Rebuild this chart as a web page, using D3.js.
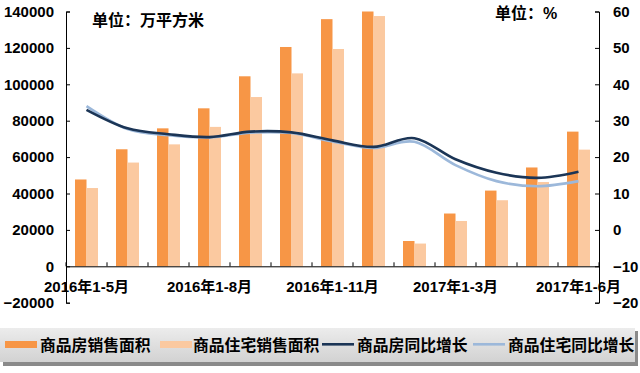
<!DOCTYPE html>
<html>
<head>
<meta charset="utf-8">
<script src="https://cdn.jsdelivr.net/npm/d3@7"></script>
<style>
  body { margin: 0; background: #fff; }
  text { font-family: "Liberation Sans", "Noto Sans CJK SC", sans-serif; font-weight: bold; fill: #000; }
</style>
</head>
<body>
<div id="chart"></div>
<script>
// categories and series
var categories = ['2016年1-5月','2016年1-6月','2016年1-7月','2016年1-8月','2016年1-9月','2016年1-10月',
    '2016年1-11月','2016年1-12月','2017年1-2月','2017年1-3月','2017年1-4月','2017年1-5月','2017年1-6月'];
var salesArea   = [47700, 64300, 75800, 86800, 104400, 120500, 135800, 157000, 13900, 29000, 41600, 54300, 74000];
var housingArea = [43000, 57000, 67000, 76600, 93000, 106000, 119400, 137500, 12500, 24900, 36300, 46300, 64100];
var salesGrowth   = [33.0, 27.9, 26.3, 25.5, 27.0, 26.8, 24.6, 22.8, 25.2, 19.4, 15.7, 14.3, 16.0];
var housingGrowth = [34.0, 27.7, 26.0, 25.4, 26.7, 26.6, 24.3, 22.5, 24.2, 17.8, 13.4, 12.0, 13.4];
var leftTicks  = [-20000, 0, 20000, 40000, 60000, 80000, 100000, 120000, 140000];
var rightTicks = [-20, -10, 0, 10, 20, 30, 40, 50, 60];
var labelIdx = [0, 3, 6, 9, 12];
var legendNames = ['商品房销售面积', '商品住宅销售面积', '商品房同比增长', '商品住宅同比增长'];

var W = 640, H = 373;
var margin = {top: 11.5, right: 41, bottom: 70.3, left: 66},
    width = W - margin.left - margin.right,
    height = H - margin.top - margin.bottom;

var colDark = '#f79646', colLight = '#fbc9a0', colNavy = '#1b3556', colSky = '#9cb8da';

var root = d3.select('#chart').append('svg')
    .attr('width', W).attr('height', H);

var defs = root.append('defs');
defs.append('clipPath').attr('id', 'plotclip')
    .append('rect').attr('x', 0).attr('y', 0).attr('width', width).attr('height', height);
var grad = defs.append('linearGradient').attr('id', 'leg').attr('x1', 0).attr('y1', 0).attr('x2', 0).attr('y2', 1);
grad.append('stop').attr('offset', '0%').attr('stop-color', '#ececec');
grad.append('stop').attr('offset', '100%').attr('stop-color', '#d2d2d2');

var svg = root.append('g')
    .attr('transform', 'translate(' + margin.left + ',' + margin.top + ')');

var xScale = d3.scaleBand()
    .domain(categories)
    .range([0, width]);

var inner = d3.scaleBand()
    .domain(['a', 'b'])
    .range([0, 23])
    .paddingInner(0);

var yLeft = d3.scaleLinear()
    .domain([-20000, 140000])
    .range([height, 0]);

var yRight = d3.scaleLinear()
    .domain([-20, 60])
    .range([height, 0]);

// bars
var bars = svg.append('g').attr('clip-path', 'url(#plotclip)');
var off = (xScale.bandwidth() - 23) / 2;

bars.selectAll('.dark')
    .data(salesArea)
    .enter().append('rect')
    .attr('class', 'dark')
    .attr('x', (d, i) => xScale(categories[i]) + off + inner('a'))
    .attr('width', inner.bandwidth())
    .attr('y', d => yLeft(d))
    .attr('height', d => yLeft(0) - yLeft(d))
    .attr('fill', colDark);

bars.selectAll('.light')
    .data(housingArea)
    .enter().append('rect')
    .attr('class', 'light')
    .attr('x', (d, i) => xScale(categories[i]) + off + inner('b'))
    .attr('width', inner.bandwidth())
    .attr('y', d => yLeft(d))
    .attr('height', d => yLeft(0) - yLeft(d))
    .attr('fill', colLight);

// smoothed lines
var cx = (d, i) => xScale(categories[i]) + xScale.bandwidth() / 2;
var line = d3.line()
    .x(cx)
    .y(d => yRight(d))
    .curve(d3.curveCardinal.tension(0));

svg.append('path')
    .datum(housingGrowth)
    .attr('d', line)
    .attr('fill', 'none')
    .attr('stroke', colSky)
    .attr('stroke-width', 2.6);

svg.append('path')
    .datum(salesGrowth)
    .attr('d', line)
    .attr('fill', 'none')
    .attr('stroke', colNavy)
    .attr('stroke-width', 2.6);

// axes
var leftAxis = d3.axisLeft(yLeft)
    .tickValues(leftTicks)
    .tickSize(-4)
    .tickPadding(12)
    .tickFormat(d3.format('d'));

svg.append('g')
    .attr('class', 'y-axis')
    .call(leftAxis);

var rightAxis = d3.axisRight(yRight)
    .tickValues(rightTicks)
    .tickSize(-4)
    .tickPadding(14)
    .tickFormat(d3.format('d'));

svg.append('g')
    .attr('class', 'y-axis-right')
    .attr('transform', 'translate(' + width + ',0)')
    .call(rightAxis);

var xAxis = d3.axisBottom(xScale)
    .tickValues(labelIdx.map(i => categories[i]))
    .tickSize(0)
    .tickPadding(15);

var gx = svg.append('g')
    .attr('class', 'x-axis')
    .attr('transform', 'translate(0,' + yLeft(0) + ')')
    .call(xAxis);

// category boundary ticks pointing up
var bounds = categories.map(c => xScale(c)).concat([width]);
gx.selectAll('.btick')
    .data(bounds)
    .enter().append('line')
    .attr('class', 'btick')
    .attr('x1', d => d).attr('x2', d => d)
    .attr('y1', 0).attr('y2', -4)
    .attr('stroke', '#000');

root.selectAll('.domain, .tick line, .btick')
    .attr('stroke', '#000')
    .attr('stroke-width', 1);

root.selectAll('.tick text')
    .style('font-size', '15px');

// units
root.append('text')
    .attr('x', 92).attr('y', 20).attr('dy', '0.35em')
    .style('font-size', '16px')
    .text('单位：万平方米');

root.append('text')
    .attr('x', 495).attr('y', 13).attr('dy', '0.35em')
    .style('font-size', '16px')
    .text('单位：%');

// legend
root.append('rect')
    .attr('x', 3).attr('y', 331).attr('width', 635).attr('height', 35)
    .attr('fill', '#8a8a8a');
root.append('rect')
    .attr('x', 0).attr('y', 328).attr('width', 635).attr('height', 34)
    .attr('fill', 'url(#leg)');

var legendItems = [
    {name: legendNames[0], color: colDark, type: 'bar', x: 5, tx: 40},
    {name: legendNames[1], color: colLight, type: 'bar', x: 160, tx: 193},
    {name: legendNames[2], color: colNavy, type: 'line', x: 322, tx: 357},
    {name: legendNames[3], color: colSky, type: 'line', x: 473, tx: 508}
];

var lg = root.selectAll('.leg')
    .data(legendItems)
    .enter().append('g')
    .attr('class', 'leg');

lg.append('rect')
    .attr('x', d => d.x)
    .attr('y', d => d.type === 'bar' ? 341 : 343)
    .attr('width', 32)
    .attr('height', d => d.type === 'bar' ? 7 : 2.6)
    .attr('fill', d => d.color);

lg.append('text')
    .attr('x', d => d.tx)
    .attr('y', 345).attr('dy', '0.35em')
    .style('font-size', '15.8px')
    .text(d => d.name);
</script>
</body>
</html>
